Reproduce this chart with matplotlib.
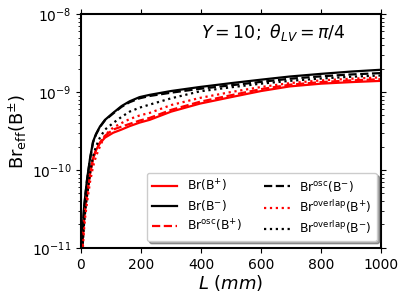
import matplotlib
matplotlib.use("Agg")
import matplotlib.pyplot as plt
import numpy as np

L = [1, 2, 5, 10, 15, 20, 30, 40, 50, 63, 80, 107, 135, 162, 195, 229, 300, 396, 500, 600, 695, 800, 900, 1000]

br_minus = [3.0e-12, 6.0e-12, 1.6e-11, 3.2e-11, 5.0e-11, 7.5e-11, 1.4e-10, 2.3e-10, 2.9e-10, 3.6e-10, 4.4e-10, 5.4e-10, 6.6e-10, 7.6e-10, 8.6e-10, 9.2e-10, 1.03e-9, 1.16e-9, 1.30e-9, 1.44e-9, 1.58e-9, 1.71e-9, 1.83e-9, 1.93e-9]
br_osc_minus = [3.0e-12, 6.0e-12, 1.58e-11, 3.15e-11, 4.9e-11, 7.3e-11, 1.37e-10, 2.25e-10, 2.85e-10, 3.55e-10, 4.35e-10, 5.3e-10, 6.45e-10, 7.4e-10, 8.3e-10, 8.9e-10, 9.8e-10, 1.10e-9, 1.22e-9, 1.35e-9, 1.48e-9, 1.59e-9, 1.68e-9, 1.75e-9]
br_ovl_minus = [2.0e-12, 4.0e-12, 1.0e-11, 2.0e-11, 3.2e-11, 4.6e-11, 9.0e-11, 1.5e-10, 2.0e-10, 2.6e-10, 3.3e-10, 4.0e-10, 4.8e-10, 5.6e-10, 6.3e-10, 6.9e-10, 8.3e-10, 1.02e-9, 1.15e-9, 1.28e-9, 1.39e-9, 1.49e-9, 1.57e-9, 1.63e-9]
br_plus = [2.3e-12, 4.6e-12, 1.15e-11, 2.3e-11, 3.6e-11, 5.0e-11, 9.0e-11, 1.4e-10, 1.8e-10, 2.2e-10, 2.6e-10, 3.0e-10, 3.3e-10, 3.65e-10, 4.05e-10, 4.4e-10, 5.6e-10, 7.1e-10, 8.6e-10, 1.03e-9, 1.18e-9, 1.28e-9, 1.34e-9, 1.39e-9]
br_osc_plus = [2.3e-12, 4.6e-12, 1.15e-11, 2.3e-11, 3.6e-11, 5.0e-11, 9.0e-11, 1.4e-10, 1.8e-10, 2.25e-10, 2.75e-10, 3.3e-10, 3.6e-10, 3.9e-10, 4.3e-10, 4.66e-10, 5.9e-10, 7.5e-10, 9.1e-10, 1.09e-9, 1.24e-9, 1.34e-9, 1.41e-9, 1.46e-9]
br_ovl_plus = [1.7e-12, 3.4e-12, 8.5e-12, 1.7e-11, 2.7e-11, 3.8e-11, 7.0e-11, 1.1e-10, 1.5e-10, 2.0e-10, 2.8e-10, 3.5e-10, 4.0e-10, 4.5e-10, 5.0e-10, 5.4e-10, 6.8e-10, 8.4e-10, 1.0e-9, 1.16e-9, 1.30e-9, 1.41e-9, 1.48e-9, 1.54e-9]

x_ticks = [0, 200, 400, 600, 800, 1000]

fig = plt.figure(figsize=(4.07, 3.05), dpi=100)
ax = fig.add_axes([0.199, 0.187, 0.738, 0.767])

lw = 1.6
ax.plot(L, br_plus, color='red', ls='-', lw=lw, label=r'Br(B$^{+}$)')
ax.plot(L, br_minus, color='black', ls='-', lw=lw, label=r'Br(B$^{-}$)')
ax.plot(L, br_osc_plus, color='red', ls='--', lw=lw, label=r'Br$^{\rm osc}$(B$^{+}$)')
ax.plot(L, br_osc_minus, color='black', ls='--', lw=lw, label=r'Br$^{\rm osc}$(B$^{-}$)')
ax.plot(L, br_ovl_plus, color='red', ls=':', lw=lw, label=r'Br$^{\rm overlap}$(B$^{+}$)')
ax.plot(L, br_ovl_minus, color='black', ls=':', lw=lw, label=r'Br$^{\rm overlap}$(B$^{-}$)')

ax.set_yscale('log')
ax.set_xlim(0, 1000)
ax.set_ylim(1e-11, 1e-8)
ax.set_xticks(x_ticks)
ax.tick_params(which='both', top=True, right=True, direction='out', labelsize=10)
for s in ax.spines.values():
    s.set_linewidth(1.5)

ax.set_xlabel(r'$L\ (mm)$', fontsize=13, labelpad=1)
ax.set_ylabel(r'Br$_{\rm eff}$(B$^{\pm}$)', fontsize=13, labelpad=2)
ax.text(0.64, 0.92, r'$Y=10;\ \theta_{LV}=\pi/4$', transform=ax.transAxes,
        fontsize=12.5, ha='center', va='center')

ax.legend(loc='lower right', ncol=2, shadow=True, fontsize=8.8, handlelength=2.1,
          columnspacing=1.8, labelspacing=0.35, borderaxespad=0,
          bbox_to_anchor=(0.985, 0.03), frameon=True)

fig.savefig('out.png', dpi=100)
